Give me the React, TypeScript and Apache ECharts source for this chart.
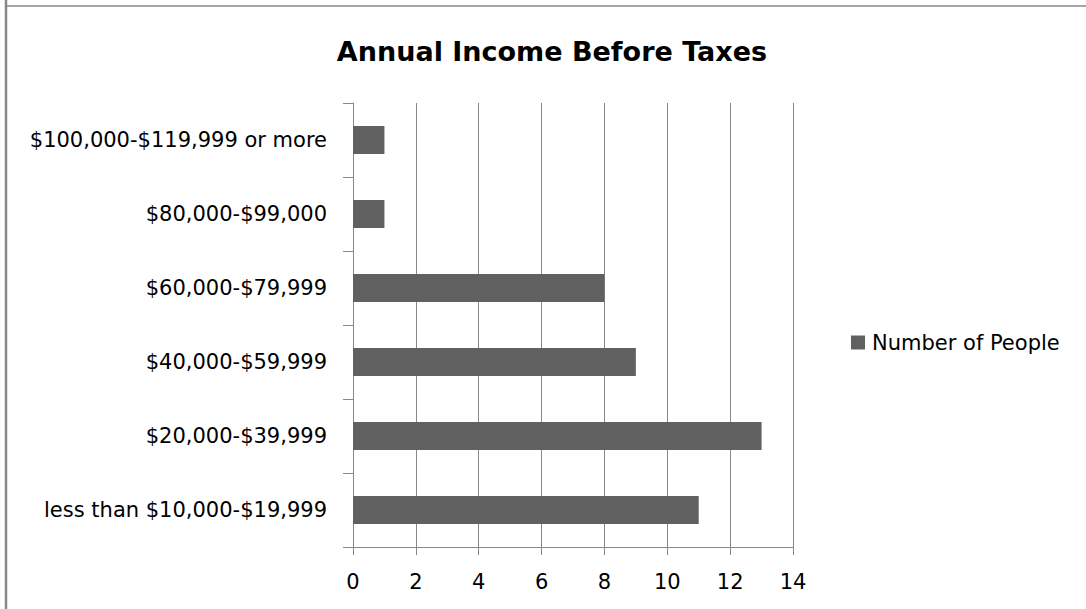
import React, { useEffect, useRef } from "react";
import * as echarts from "echarts";

const categories = [
  "less than $10,000-$19,999",
  "$20,000-$39,999",
  "$40,000-$59,999",
  "$60,000-$79,999",
  "$80,000-$99,000",
  "$100,000-$119,999 or more",
];
const values = [11, 13, 9, 8, 1, 1];
const seriesName = "Number of People";
const titleText = "Annual Income Before Taxes";
const xMin = 0;
const xMax = 14;
const xInterval = 2;

const FONT = "'DejaVu Sans', sans-serif";

export default function App() {
  const ref = useRef<HTMLDivElement>(null);
  useEffect(() => {
    if (!ref.current) return;
    const chart = echarts.init(ref.current, null, { renderer: "svg" });
    chart.setOption({
      animation: false,
      backgroundColor: "#ffffff",
      title: {
        text: titleText,
        left: 547,
        top: 33,
        textAlign: "center",
        textStyle: { fontFamily: FONT, fontSize: 27, fontWeight: "bold", color: "#000" },
      },
      legend: {
        data: [seriesName],
        left: 851,
        top: 332,
        padding: 0,
        icon: "rect",
        itemWidth: 14,
        itemHeight: 14,
        itemGap: 6,
        textStyle: { fontFamily: FONT, fontSize: 21, color: "#000", padding: [0, 0, 0, 2] },
      },
      grid: { left: 353, right: 293, top: 103, bottom: 62, containLabel: false },
      xAxis: {
        type: "value",
        min: xMin,
        max: xMax,
        interval: xInterval,
        axisLine: { show: true, lineStyle: { color: "#888", width: 1 } },
        axisTick: { show: true, length: 8, lineStyle: { color: "#888" } },
        splitLine: { show: true, lineStyle: { color: "#888", width: 1 } },
        axisLabel: { fontFamily: FONT, fontSize: 21, color: "#000", margin: 24 },
      },
      yAxis: {
        type: "category",
        data: categories,
        axisLine: { show: true, lineStyle: { color: "#888", width: 1 } },
        axisTick: { show: true, length: 10, alignWithLabel: false, lineStyle: { color: "#888" } },
        axisLabel: { fontFamily: FONT, fontSize: 21, color: "#000", margin: 26 },
      },
      series: [
        {
          name: seriesName,
          type: "bar",
          data: values,
          barWidth: 28,
          itemStyle: { color: "#606060" },
        },
      ],
      graphic: [
        { type: "line", shape: { x1: 6, y1: 0, x2: 6, y2: 609 }, style: { stroke: "#888", lineWidth: 2.5 }, z: 100 },
        { type: "line", shape: { x1: 5, y1: 6, x2: 1086, y2: 6 }, style: { stroke: "#888", lineWidth: 1.5 }, z: 100 },
      ],
    });
    return () => chart.dispose();
  }, []);
  return (
    <div
      ref={ref}
      style={{ position: "fixed", left: 0, top: 0, width: 1086, height: 609 }}
    />
  );
}
